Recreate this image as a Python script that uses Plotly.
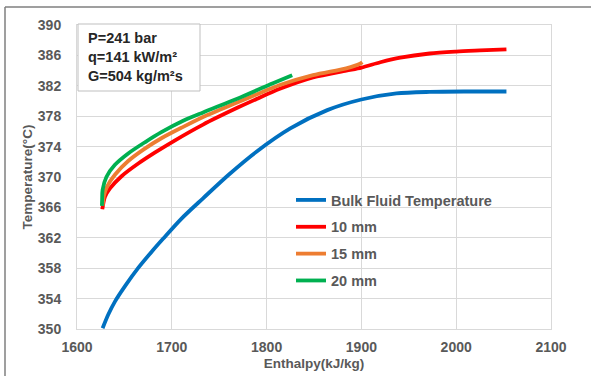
import plotly.graph_objects as go

# Data
bulk_h = [1627, 1633, 1640, 1651, 1665, 1679, 1691, 1710, 1733, 1760, 1790, 1825, 1864, 1900, 1937, 1972, 2010, 2053]
bulk_T = [350.1, 351.9, 353.6, 355.7, 358.1, 360.2, 361.9, 364.5, 367.2, 370.3, 373.4, 376.4, 378.8, 380.2, 381.0, 381.2, 381.25, 381.25]

mm10_h = [1626.7, 1629.5, 1634.8, 1647, 1665, 1682, 1703, 1733, 1769, 1790, 1814, 1849, 1884, 1900, 1920, 1941, 1972, 2000, 2025, 2053]
mm10_T = [365.75, 367.4, 368.5, 370.1, 371.8, 373.2, 374.8, 376.9, 379.1, 380.3, 381.6, 383.1, 384.0, 384.4, 385.1, 385.7, 386.25, 386.5, 386.65, 386.8]

mm15_h = [1627, 1628.5, 1632, 1640, 1654, 1670, 1689, 1712, 1733, 1769, 1790, 1814, 1849, 1884, 1898.5, 1901]
mm15_T = [366.2, 367.6, 368.8, 370.3, 372.1, 373.6, 375.1, 376.6, 377.9, 379.8, 380.9, 382.1, 383.4, 384.3, 384.9, 385.1]

mm20_h = [1626.3, 1626.5, 1627, 1631, 1640, 1654, 1672, 1689, 1712, 1733, 1769, 1804, 1827]
mm20_T = [366.2, 367.0, 368.3, 370.0, 371.6, 373.1, 374.6, 375.9, 377.4, 378.5, 380.3, 382.2, 383.4]

series = [
    ("Bulk Fluid Temperature", bulk_h, bulk_T, "#0070C0"),
    ("10 mm", mm10_h, mm10_T, "#FF0000"),
    ("15 mm", mm15_h, mm15_T, "#ED7D31"),
    ("20 mm", mm20_h, mm20_T, "#00B050"),
]

x_ticks = [1600, 1700, 1800, 1900, 2000, 2100]
y_ticks = [350, 354, 358, 362, 366, 370, 374, 378, 382, 386, 390]

fig = go.Figure()
for i, (name, xs, ys, col) in enumerate(series):
    fig.add_trace(go.Scatter(x=xs, y=ys, mode="lines", name="<b>%s</b>" % name,
                             legendgroup="g%d" % i,
                             line=dict(color=col, width=3.8, shape="spline", smoothing=0.8)))

txtcol = "#595959"
font_b = "Liberation Sans"

L, R, T, B = 77, 40, 25, 47
W, H = 591, 376
pw, ph = W - L - R, H - T - B

def px_x(p):
    return (p - L) / pw

def px_y(p):
    return (H - B - p) / ph

fig.update_layout(
    width=W, height=H,
    margin=dict(l=L, r=R, t=T, b=B, autoexpand=False),
    paper_bgcolor="white", plot_bgcolor="white",
    font=dict(family=font_b, color=txtcol, size=13),
    showlegend=True,
    legend=dict(x=px_x(291), y=px_y(184), xanchor="left", yanchor="top",
                bgcolor="rgba(255,255,255,0)", font=dict(size=14.5, color=txtcol, family=font_b),
                itemwidth=30, tracegroupgap=5),
    xaxis=dict(range=[1600, 2100], tickvals=x_ticks, ticktext=["<b>%d</b>" % v for v in x_ticks],
               showgrid=True, gridcolor="#D9D9D9", gridwidth=1, automargin=False,
               showline=True, linecolor="#D9D9D9", linewidth=1, mirror=True,
               zeroline=False, ticks="", tickfont=dict(size=14, color=txtcol),
               ticklabelstandoff=5,
               title=dict(text="<b>Enthalpy(kJ/kg)</b>", font=dict(size=13.5, color=txtcol), standoff=4)),
    yaxis=dict(range=[350, 390], tickvals=y_ticks, ticktext=["<b>%d</b>" % v for v in y_ticks],
               showgrid=True, gridcolor="#D9D9D9", gridwidth=1, automargin=False,
               showline=True, linecolor="#D9D9D9", linewidth=1, mirror=True,
               zeroline=False, ticks="", tickfont=dict(size=14, color=txtcol),
               ticklabelstandoff=12,
               title=dict(text="<b>Temperature(°C)</b>", font=dict(size=13.5, color=txtcol), standoff=2)),
)

# Info box
fig.add_shape(type="rect", xref="paper", yref="paper",
              x0=px_x(78), x1=px_x(200), y0=px_y(91), y1=px_y(24),
              line=dict(color="#BFBFBF", width=1), fillcolor="white", layer="above")
fig.add_annotation(xref="paper", yref="paper", x=px_x(86), y=px_y(28), xanchor="left", yanchor="top",
                   align="left", showarrow=False,
                   text="<b>P=241 bar<br>q=141 kW/m²<br>G=504 kg/m²s</b>",
                   font=dict(size=14.5, color="#262626", family=font_b))

# Outer frame lines (top and left)
fig.add_shape(type="line", xref="paper", yref="paper", x0=px_x(5), x1=px_x(591), y0=px_y(7), y1=px_y(7),
              line=dict(color="#7F7F7F", width=1.5))
fig.add_shape(type="line", xref="paper", yref="paper", x0=px_x(5), x1=px_x(5), y0=px_y(7), y1=px_y(376),
              line=dict(color="#7F7F7F", width=1.5))

fig.write_html("out.html")
